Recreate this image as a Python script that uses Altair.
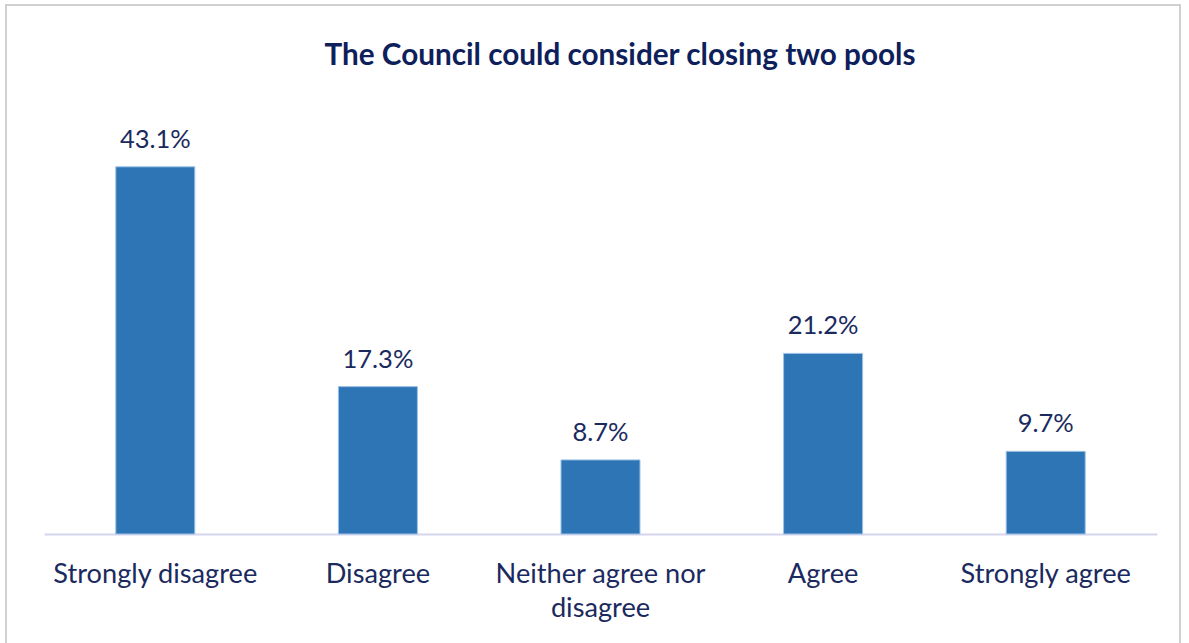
import altair as alt
import pandas as pd

categories = ["Strongly disagree", "Disagree", "Neither agree nor disagree", "Agree", "Strongly agree"]
values = [43.1, 17.3, 8.7, 21.2, 9.7]
labels = ["43.1%", "17.3%", "8.7%", "21.2%", "9.7%"]
title_text = "The Council could consider closing two pools"

df = pd.DataFrame({"cat": categories, "val": values, "lab": labels})

FONT = "Lato"
NAVY = "#1B2A5E"

x = alt.X("cat:N", sort=categories, title=None,
          scale=alt.Scale(paddingInner=0.645, paddingOuter=0.3225),
          axis=alt.Axis(labelAngle=0, labelFontSize=27.2, labelFont=FONT, labelColor=NAVY,
                        labelPadding=27, labelLineHeight=34, ticks=False, labelLimit=0,
                        domainColor="#D5D5EE", domainWidth=2, labelBaseline="top",
                        labelExpr="datum.value == 'Neither agree nor disagree' ? ['Neither agree nor', 'disagree'] : datum.value"))
y = alt.Y("val:Q", scale=alt.Scale(domain=[0, 50]), axis=None)

border = alt.Chart(pd.DataFrame({"a": [0]})).mark_rect(
    fill="transparent", stroke="#D0D0D0", strokeWidth=2
).encode(x=alt.value(-38), x2=alt.value(1136), y=alt.value(-103), y2=alt.value(545))

title = alt.Chart(pd.DataFrame({"t": [title_text]})).mark_text(
    font=FONT, fontSize=29.7, fontWeight="bold", color="#0E1F5B", baseline="alphabetic", align="center"
).encode(x=alt.value(576), y=alt.value(-43), text="t:N")

bars = alt.Chart(df).mark_bar(color="#2E75B6", stroke="#9DC3E6", strokeWidth=1).encode(x=x, y=y)
text = alt.Chart(df).mark_text(baseline="alphabetic", dy=-19, fontSize=25.5, font=FONT, color=NAVY).encode(
    x=x, y=y, text="lab:N")

chart = alt.layer(border, title, bars, text).properties(
    width=1113, height=426,
    background="white",
    autosize=alt.AutoSizeParams(type="none"),
    padding={"left": 44, "top": 108, "right": 32, "bottom": 109},
).configure_view(strokeWidth=0, stroke=None)

chart.save("out.html", embed_options={"renderer": "svg", "actions": False})
